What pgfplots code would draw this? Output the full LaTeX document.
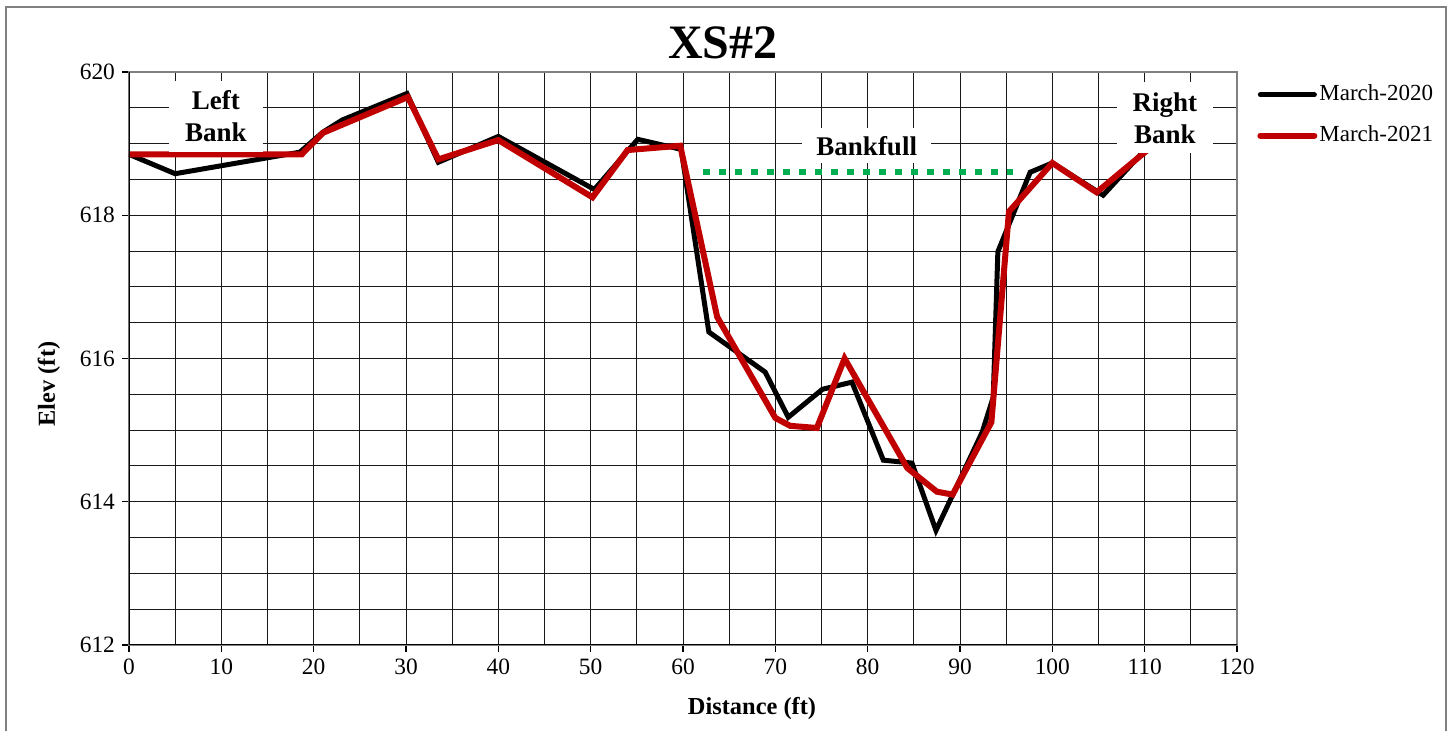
\documentclass[border=0pt]{standalone}
\usepackage{pgfplots}
\pgfplotsset{compat=1.18}
\usepackage{fontspec}
\setmainfont{Liberation Serif}
\definecolor{exred}{RGB}{192,0,0}
\definecolor{exgreen}{RGB}{0,176,80}
\begin{document}
\begin{tikzpicture}
\useasboundingbox (0,0) rectangle (726pt,365.5pt);
\draw[gray, line width=1pt] (2.75pt,-5pt) -- (2.75pt,362pt) -- (723pt,362pt) -- (723pt,-5pt);
\begin{axis}[
  at={(64.5pt,43pt)}, anchor=south west,
  scale only axis, width=554pt, height=286.5pt,
  xmin=0, xmax=120, ymin=612, ymax=620,
  xtick={0,10,...,120}, ytick={612,614,...,620},
  minor x tick num=1, minor y tick num=3,
  grid=both,
  major grid style={black!90, line width=0.5pt},
  minor grid style={black!90, line width=0.5pt},
  axis line style={gray, line width=1pt},
  tick align=outside, tick pos=left,
  major tick length=3.5pt, minor tick length=0pt,
  tick style={black, line width=0.6pt},
  ticklabel style={font=\fontsize{11.7}{13}\selectfont},
  /pgf/number format/assume math mode=true,
  legend style={at={(1.018,0.982)}, anchor=north west, draw=none, fill=none,
    inner sep=0pt, row sep=8.5pt, font=\fontsize{11.5}{13}\selectfont,
    nodes={inner sep=1pt, text height=8pt, text depth=2pt}},
  legend cell align=left,
  legend image code/.code={\draw[#1, line cap=round] (0pt,0pt) -- (27pt,0pt);},
]
\addplot[black, line width=2.5pt] coordinates {
(0,618.85) (5,618.58) (18.5,618.88) (21,619.16) (23.1,619.33) (30.1,619.7)
(33.5,618.74) (40,619.1) (50.4,618.36) (55.1,619.06) (59.8,618.92)
(62.8,616.37) (68.9,615.81) (71.4,615.18) (75.1,615.57) (78.3,615.67)
(81.7,614.58) (84.8,614.54) (87.4,613.6) (92.4,614.97) (93.6,615.46)
(94.1,617.49) (97.6,618.6) (100,618.73) (105.5,618.28) (110.3,618.95)
};
\addlegendentry{March-2020}
\addplot[exred, line width=3pt] coordinates {
(0,618.85) (18.7,618.85) (21,619.15) (30.2,619.65) (33.5,618.78) (40,619.05)
(50.2,618.25) (54,618.91) (59.7,618.97) (63.7,616.58) (70,615.17) (71.6,615.06)
(74.5,615.03) (77.5,616.0) (84.3,614.47) (87.5,614.14) (89.2,614.1)
(93.4,615.11) (95.3,618.05) (100,618.73) (104.8,618.32) (110.3,618.91)
};
\addlegendentry{March-2021}
\addplot[exgreen, line width=3pt, dash pattern=on 3.5pt off 4.5pt, forget plot] coordinates {
(62.2,618.6) (95.7,618.6)
};
\draw[black, line width=1pt] (rel axis cs:0,1) -- (rel axis cs:0,0) -- (rel axis cs:1,0);
\node[fill=white, align=center, inner xsep=8pt, inner ysep=5pt,
  font=\bfseries\fontsize{13.5}{16}\selectfont] at (axis cs:9.42,619.38) {Left\\Bank};
\node[fill=white, align=center, inner xsep=8pt, inner ysep=5pt,
  font=\bfseries\fontsize{13.5}{16}\selectfont] at (axis cs:112.2,619.36) {Right\\Bank};
\node[fill=white, align=center, inner xsep=7pt, inner ysep=4pt,
  font=\bfseries\fontsize{13.5}{16}\selectfont] at (axis cs:79.9,618.97) {Bankfull};
\end{axis}
\node[font=\bfseries\fontsize{24}{28}\selectfont] at (361.5pt,344pt) {XS\#2};
\node[font=\bfseries\fontsize{12.2}{14}\selectfont] at (376pt,11pt) {Distance (ft)};
\node[font=\bfseries\fontsize{12.2}{14}\selectfont, rotate=90] at (24.5pt,173.5pt) {Elev (ft)};
\end{tikzpicture}
\end{document}
